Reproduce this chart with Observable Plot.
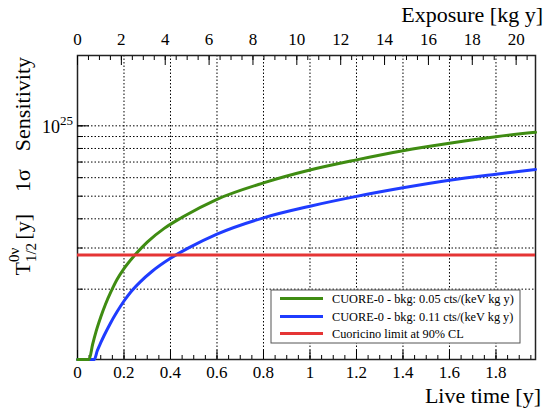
<!DOCTYPE html>
<html>
<head>
<meta charset="utf-8">
<script src="https://cdn.jsdelivr.net/npm/d3@7"></script>
<script src="https://cdn.jsdelivr.net/npm/@observablehq/plot@0.6"></script>
<style>
  html, body { margin: 0; padding: 0; background: #fff; }
  #chart { width: 545px; height: 409px; }
</style>
</head>
<body>
<div id="chart"></div>
<script>
// ---- data ----
const massKg = 10.6; // exposure per year of live time [kg]
const liveTimeTicks = [0, 0.2, 0.4, 0.6, 0.8, 1, 1.2, 1.4, 1.6, 1.8];
const liveTimeLabels = ["0", "0.2", "0.4", "0.6", "0.8", "1", "1.2", "1.4", "1.6", "1.8"];
const liveTimeMinor = d3.range(0, 40).map(i => i * 0.05);
const exposureTicks = [0, 2, 4, 6, 8, 10, 12, 14, 16, 18, 20];
const exposureMinor = d3.range(0, 42).map(i => i * 0.5);
const yGridValues = [2e24, 3e24, 4e24, 5e24, 6e24, 7e24, 8e24, 9e24, 1e25];
const yMajorTicks = [1e25];

const greenT = [0, 0.05, 0.065, 0.08, 0.1, 0.12, 0.144, 0.17, 0.2, 0.244, 0.3, 0.373, 0.45, 0.6, 0.8, 1.0, 1.2, 1.4, 1.6, 1.8, 1.97];
const greenV = [1.0, 1.0, 1.16, 1.32, 1.52, 1.72, 1.95, 2.2, 2.45, 2.78, 3.18, 3.64, 4.06, 4.85, 5.70, 6.47, 7.15, 7.82, 8.42, 8.98, 9.38].map(v => v * 1e24);
const blueT = [0, 0.072, 0.085, 0.1, 0.115, 0.14, 0.17, 0.2, 0.23, 0.27, 0.32, 0.4, 0.48, 0.6, 0.8, 1.0, 1.2, 1.4, 1.6, 1.8, 1.97];
const blueV = [1.0, 1.0, 1.09, 1.18, 1.27, 1.42, 1.60, 1.78, 1.95, 2.15, 2.38, 2.71, 3.01, 3.44, 4.04, 4.53, 4.99, 5.43, 5.85, 6.21, 6.51].map(v => v * 1e24);
const cuoricinoLimit = 2.8e24;

const seriesNames = [
  "CUORE-0 - bkg: 0.05 cts/(keV kg y)",
  "CUORE-0 - bkg: 0.11 cts/(keV kg y)",
  "Cuoricino limit at 90% CL"
];
const colors = ["#3f8c12", "#1f3cff", "#e53535"];

const green = greenT.map((t, i) => ({t, v: greenV[i]}));
const blue = blueT.map((t, i) => ({t, v: blueV[i]}));

const font = "Liberation Serif, Times New Roman, serif";

const plot = Plot.plot({
  width: 545,
  height: 409,
  marginLeft: 77,
  marginRight: 10,
  marginTop: 55,
  marginBottom: 50,
  style: {fontFamily: font, background: "#fff", color: "#000"},
  x: {domain: [0, 1.97], axis: null},
  y: {type: "log", domain: [1e24, 2e25], axis: null},
  marks: [
    Plot.gridX(liveTimeTicks.slice(1), {stroke: "#000", strokeOpacity: 1, strokeWidth: 1, strokeDasharray: "1.5,2"}),
    Plot.gridY(yGridValues, {stroke: "#000", strokeOpacity: 1, strokeWidth: 1, strokeDasharray: "1.5,2"}),
    Plot.frame({stroke: "#222", strokeWidth: 1.5}),
    // bottom axis: ticks inward, labels
    Plot.axisX({anchor: "bottom", label: null, ticks: liveTimeMinor, tickSize: -4, fill: "none", stroke: "#000"}),
    Plot.axisX({anchor: "bottom", label: null, ticks: liveTimeTicks, tickSize: -9, fill: "none", stroke: "#000"}),
    Plot.axisX({anchor: "bottom", label: null, ticks: liveTimeTicks, tickSize: 0, tickPadding: 6, fontSize: 17, fill: "#000",
      tickFormat: d => liveTimeLabels[liveTimeTicks.findIndex(v => Math.abs(v - d) < 1e-9)]}),
    // top axis: exposure
    Plot.axisX({anchor: "top", label: null, ticks: exposureMinor.map(e => e / massKg).filter(t => t <= 1.97), tickSize: -4, fill: "none", stroke: "#000"}),
    Plot.axisX({anchor: "top", label: null, ticks: exposureTicks.map(e => e / massKg), tickSize: -9, fill: "none", stroke: "#000"}),
    Plot.axisX({anchor: "top", label: null, ticks: exposureTicks.map(e => e / massKg), tickSize: 0, tickPadding: 11, fontSize: 17, fill: "#000",
      tickFormat: d => String(Math.round(d * massKg))}),
    // left axis ticks
    Plot.axisY({anchor: "left", label: null, ticks: yGridValues, tickSize: -6, fill: "none", stroke: "#000"}),
    Plot.axisY({anchor: "left", label: null, ticks: yMajorTicks, tickSize: -12, fill: "none", stroke: "#000"}),
    // data
    Plot.line(blue, {x: "t", y: "v", stroke: colors[1], strokeWidth: 3, curve: "monotone-x"}),
    Plot.line(green, {x: "t", y: "v", stroke: colors[0], strokeWidth: 3, curve: "monotone-x"}),
    Plot.ruleY([cuoricinoLimit], {stroke: colors[2], strokeWidth: 3})
  ]
});

document.getElementById("chart").appendChild(plot);

// ---- decorations: titles, y tick label, legend ----
const svg = d3.select(plot);
const ys = plot.scale("y");

// 10^25 label
const y25 = ys.apply(1e25);
const lab = svg.append("text")
  .attr("x", 73).attr("y", y25 + 8)
  .attr("text-anchor", "end")
  .attr("font-family", font).attr("font-size", 18).attr("fill", "#000");
lab.append("tspan").text("10");
lab.append("tspan").attr("font-size", 13).attr("dy", -8).text("25");

// Exposure title
svg.append("text")
  .attr("x", 543).attr("y", 22)
  .attr("text-anchor", "end")
  .attr("font-family", font).attr("font-size", 22).attr("fill", "#000")
  .text("Exposure [kg y]");

// Live time title
svg.append("text")
  .attr("x", 541).attr("y", 403)
  .attr("text-anchor", "end")
  .attr("font-family", font).attr("font-size", 22).attr("fill", "#000")
  .text("Live time [y]");

// Y title (rotated)
const yt = svg.append("text")
  .attr("transform", "translate(30,57) rotate(-90)")
  .attr("text-anchor", "end")
  .attr("font-family", font).attr("font-size", 22).attr("fill", "#000");
yt.append("tspan").text("T");
yt.append("tspan").attr("font-size", 15).attr("dy", 6).text("1/2");
yt.append("tspan").attr("font-size", 15).attr("dx", -19).attr("dy", -17).text("0ν");
yt.append("tspan").attr("dx", 8).attr("dy", 11).text("[y]");
yt.append("tspan").attr("dx", 22).text("1σ");
yt.append("tspan").attr("dx", 18).text("Sensitivity");

// Legend
const lg = svg.append("g").attr("text-anchor", "start");
lg.append("rect").attr("x", 271).attr("y", 290).attr("width", 249).attr("height", 53)
  .attr("fill", "#fff").attr("stroke", "#555").attr("stroke-width", 1);
const rowsY = [298.5, 316.5, 333.5];
seriesNames.forEach((name, i) => {
  lg.append("line").attr("x1", 280).attr("x2", 323).attr("y1", rowsY[i]).attr("y2", rowsY[i])
    .attr("stroke", colors[i]).attr("stroke-width", 3);
  lg.append("text").attr("x", 332).attr("y", rowsY[i] + 4.5)
    .attr("text-anchor", "start")
    .attr("font-family", font).attr("font-size", 12.3).attr("fill", "#000").text(name);
});
</script>
</body>
</html>
